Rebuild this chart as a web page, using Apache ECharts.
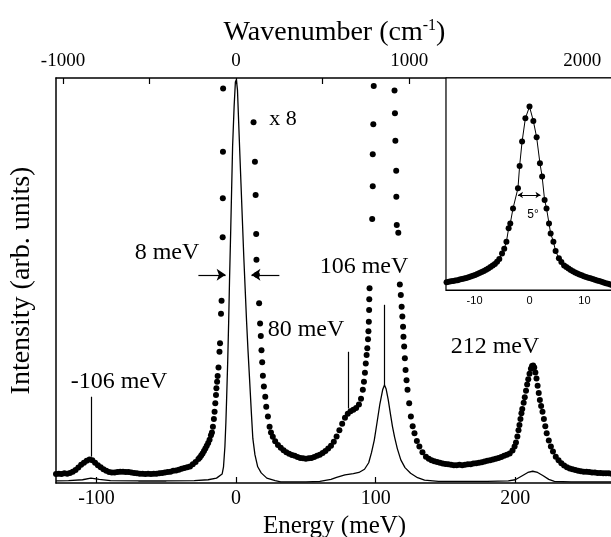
<!DOCTYPE html>
<html lang="en">
<head>
    <meta charset="UTF-8">
    <title>Energy spectrum</title>
    <style>
        html, body { margin: 0; padding: 0; background: #fff; }
        #main { width: 611px; height: 537px; }
    </style>
</head>
<body>
    <div id="main"></div>
    <script src="https://cdn.jsdelivr.net/npm/echarts@6/dist/echarts.min.js"></script>
    <script>
        // axis ranges (meV) and the cm-1 conversion for the top axis
        var xMin = -129, xMax = 270;
        var cmPerMeV = 8.0655;
        var energyTicks = [-100, 0, 100, 200];
        var waveLabels = [-1000, 0, 1000, 2000];
        var waveTicks = [-1000, -500, 0, 500, 1000, 1500, 2000];
        var insetTicks = [-10, 0, 10];

        // x1 spectrum (solid line): [energy, intensity]
        var solidLine = [
            [-129, 0.5], [-120, 0.6], [-110, 0.8], [-104, 1.2], [-98, 0.9], [-90, 0.6], [-70, 0.5],
            [-50, 0.5], [-30, 0.6], [-20, 0.8], [-14, 1.2], [-10, 2.2], [-9, 4], [-8, 9], [-7.3, 15],
            [-6.8, 20.5], [-6, 30], [-5.3, 40], [-4.7, 50], [-3.8, 63], [-2.5, 83], [-1.4, 93],
            [-0.5, 99], [0.2, 99.6], [1, 97], [2.5, 83], [3.5, 74], [4.5, 65], [5.5, 56], [6.5, 48],
            [7.5, 40], [8.5, 33], [9.7, 25.4], [11, 17], [12, 11], [13.5, 7], [15.5, 4], [18, 2.5],
            [22, 1.2], [28, 0.6], [32, 0.3], [40, 0.3], [50, 0.3], [60, 0.4], [68, 0.9], [72, 1.4],
            [78, 2.0], [84, 2.3], [88, 2.6], [92, 3.4], [95, 5], [97, 7.5], [99, 10.6], [101, 15],
            [103, 19.5], [105, 23], [106.3, 24.2], [107.5, 23.2], [109, 20.5], [110.5, 17.2],
            [112, 14], [113.5, 11.4], [115.5, 8.5], [118, 5.7], [121, 3.8], [125, 2.4], [130, 1.3],
            [135, 0.7], [145, 0.4], [160, 0.4], [180, 0.4], [195, 0.5], [200, 0.8], [205, 1.8],
            [209, 2.6], [212.5, 2.9], [216, 2.6], [220, 1.8], [224, 0.9], [228, 0.4], [240, 0.3],
            [270, 0.3]
        ];

        // x8 spectrum (dots), energy loss side and elastic peak
        var dotsLeft = [
            [-129, 2.2], [-127, 2.3], [-125, 2.2], [-123, 2.4], [-121, 2.3], [-119, 2.5], [-117, 2.8],
            [-115, 3.2], [-113, 3.8], [-111, 4.5], [-109, 5.0], [-107, 5.5], [-105, 5.8], [-103, 5.6],
            [-101, 5.0], [-99, 4.4], [-97, 3.9], [-95, 3.4], [-93, 3.0], [-91, 2.7], [-89, 2.6],
            [-87, 2.6], [-85, 2.7], [-83, 2.8], [-81, 2.8], [-79, 2.7], [-77, 2.7], [-75, 2.6],
            [-73, 2.5], [-71, 2.4], [-69, 2.3], [-67, 2.3], [-65, 2.2], [-63, 2.3], [-61, 2.2],
            [-59, 2.3], [-57, 2.3], [-55, 2.4], [-53, 2.5], [-51, 2.6], [-49, 2.7], [-47, 2.8],
            [-45, 3.0], [-43, 3.1], [-41, 3.3], [-39, 3.5], [-37, 3.7], [-35, 3.9], [-33, 4.1],
            [-31, 4.6], [-29, 5.2], [-27, 5.9], [-26, 6.3], [-25, 6.8], [-24, 7.3], [-23, 7.9],
            [-22, 8.5], [-21, 9.2], [-20, 9.9], [-19, 10.7], [-18, 11.8], [-17.3, 12.5], [-16.6, 13.9],
            [-15.9, 15.8], [-15.4, 17.6], [-14.9, 19.7], [-14.4, 21.7], [-14.1, 23.4], [-13.6, 25.0],
            [-13.2, 26.4], [-12.6, 28.5], [-11.9, 32.4], [-11.5, 34.5], [-10.8, 41.8], [-10.4, 45.0],
            [-9.6, 60.7], [-9.5, 70.3], [-9.4, 81.8], [-9.3, 97.4]
        ];

        // x8 spectrum between the elastic peak and the 106 meV peak
        var dotsMid = [
            [12.5, 89.1], [13.5, 79.3], [14.0, 71.1], [14.4, 61.5], [14.6, 55.1], [14.9, 51.4],
            [16.5, 44.4], [17.2, 39.4], [17.7, 36.3], [18.2, 32.8], [18.7, 29.8], [19.2, 26.5],
            [19.9, 23.8], [20.9, 21.3], [21.6, 18.8], [22.8, 16.4], [24, 13.9], [25, 12.5], [26.3, 11.4],
            [28, 10.3], [30, 9.4], [32, 8.7], [34, 8.1], [36, 7.6], [38, 7.2], [40, 6.9], [42, 6.7],
            [44, 6.4], [46, 6.2], [48, 6.1], [50, 6.0], [52, 6.1], [54, 6.2], [56, 6.4], [58, 6.7],
            [60, 7.0], [62, 7.4], [64, 7.9], [66, 8.5], [68, 9.2], [70, 10.2], [72, 11.5], [74, 13.0],
            [76, 14.6], [78, 16.1], [80, 17.1], [82, 17.7], [84, 18.1], [86, 18.5], [88, 19.4],
            [89.5, 20.8], [90.8, 23.0], [91.6, 25.0], [92.3, 27.2], [92.9, 29.5], [93.5, 31.6],
            [94.0, 33.3], [94.5, 35.5], [94.8, 37.5], [95.1, 39.8], [95.3, 42.7], [95.4, 45.4],
            [95.6, 48.1], [97.5, 65.2], [97.9, 73.3], [97.9, 81.2], [98.3, 88.6], [98.6, 98]
        ];

        // x8 spectrum above the 106 meV peak
        var dotsRight = [
            [113.5, 96.9], [113.8, 91.3], [114.1, 84.5], [114.7, 77.1], [114.8, 70.7], [115.1, 63.7],
            [116.2, 61.8], [117.3, 49.0], [118.0, 46.4], [118.6, 43.5], [119.1, 41.1], [119.6, 38.6],
            [119.9, 36.1], [120.4, 33.7], [120.9, 30.8], [121.4, 27.9], [122.1, 25.4], [122.8, 23.0],
            [124.0, 19.7], [125.2, 16.4], [126.5, 14.0], [127.8, 12.3], [129.5, 10.4], [131.3, 9.0],
            [133.5, 7.6], [136, 6.5], [138, 6.0], [140, 5.6], [142, 5.4], [144, 5.2], [146, 5.0],
            [148, 4.8], [150, 4.7], [152, 4.6], [154, 4.5], [156, 4.4], [158, 4.4], [160, 4.5],
            [162, 4.4], [164, 4.5], [166, 4.6], [168, 4.6], [170, 4.8], [172, 4.9], [174, 5.0],
            [176, 5.1], [178, 5.3], [180, 5.5], [182, 5.6], [184, 5.8], [186, 6.0], [188, 6.2],
            [190, 6.4], [192, 6.7], [194, 7.0], [196, 7.3], [198, 8.0], [199.5, 9.0], [200.5, 10.0],
            [201.5, 11.5], [202.3, 13.0], [203, 14.3], [203.7, 15.8], [204.4, 17.2], [205, 18.3],
            [206, 19.8], [206.8, 21.2], [207.7, 22.8], [208.5, 24.3], [209.3, 25.6], [210.2, 27.0],
            [211.2, 28.2], [212, 28.9], [212.8, 29.0], [213.6, 28.5], [214.4, 27.3], [215.2, 25.8],
            [216, 24.0], [216.8, 22.2], [217.6, 20.5], [218.5, 19.0], [219.5, 17.6], [220.5, 15.8],
            [221.5, 14.0], [222.5, 12.3], [224, 10.5], [225.5, 9.0], [227, 7.8], [229, 6.5], [231, 5.6],
            [233, 4.9], [235, 4.3], [237, 3.9], [239, 3.6], [241, 3.4], [243, 3.2], [245, 3.0],
            [247, 2.9], [249, 2.8], [251, 2.8], [253, 2.7], [255, 2.6], [257, 2.6], [259, 2.5],
            [261, 2.5], [263, 2.4], [265, 2.4], [267, 2.4], [269, 2.3]
        ];

        // inset: angular profile [angle (deg), intensity]
        var insetDots = [
            [-15.1, 3.6], [-14.7, 3.9], [-14.3, 4.1], [-13.9, 4.2], [-13.5, 4.5], [-13.1, 4.6],
            [-12.7, 4.9], [-12.3, 5.2], [-11.9, 5.4], [-11.5, 5.7], [-11.1, 6.0], [-10.7, 6.4],
            [-10.3, 6.7], [-9.9, 7.1], [-9.5, 7.5], [-9.1, 8.0], [-8.7, 8.5], [-8.3, 9.0], [-7.9, 9.5],
            [-7.5, 10.1], [-7.1, 10.8], [-6.7, 11.5], [-6.3, 12.3], [-5.9, 13.3], [-5.5, 14.6],
            [-5.0, 17.2], [-4.6, 19.5], [-4.2, 22.8], [-3.8, 29.1], [-3.5, 31.4], [-3.0, 38.5],
            [-2.1, 48], [-1.8, 58.5], [-1.35, 70], [-0.75, 81], [0, 86.5], [0.7, 79.7], [1.3, 72],
            [1.9, 59.8], [2.3, 53.5], [2.75, 42.5], [3.1, 38.5], [3.55, 31.4], [3.85, 26.7],
            [4.35, 22.8], [4.75, 18.4], [5.35, 15], [5.8, 13.2], [6.3, 11.6], [6.7, 10.9], [7.1, 10.1],
            [7.5, 9.4], [7.9, 8.8], [8.3, 8.3], [8.7, 7.8], [9.1, 7.3], [9.5, 6.9], [9.9, 6.5],
            [10.3, 6.1], [10.7, 5.8], [11.1, 5.5], [11.5, 5.2], [11.9, 4.8], [12.3, 4.5], [12.7, 4.2],
            [13.1, 3.9], [13.5, 3.5], [13.9, 3.2], [14.3, 2.9], [14.7, 2.6], [15.1, 2.3]
        ];

        // peak marker lines: energy, lower and upper intensity
        var markers = [[-104, 6.5, 21.3], [80, 18.4, 32.4], [106.3, 24.2, 44]];

        var serif = 'Liberation Serif';
        var black = '#000';

        var markLines = markers.map(function (m) {
            return [{ coord: [m[0], m[1]], symbol: 'none' }, { coord: [m[0], m[2]], symbol: 'none' }];
        });
        // 8 meV width arrows
        markLines.push([{ coord: [-27, 51.4], symbol: 'none' }, { coord: [-7.5, 51.4], symbol: 'arrow' }]);
        markLines.push([{ coord: [31, 51.4], symbol: 'none' }, { coord: [11, 51.4], symbol: 'arrow' }]);

        // dots: full black, no transparency
        var dotStyle = { color: black, opacity: 1 };
        var dotSize = 6;
        var plain = function (v) { return String(v); };

        var myChart = echarts.init(document.getElementById('main'), null, { renderer: 'canvas' });
        var option = {
            backgroundColor: '#fff',
            animation: false,
            grid: [
                // keep the plot box fixed, labels may sit outside it
                { left: 56, top: 78, right: -2, bottom: 54, outerBoundsMode: 'none', containLabel: false },
                { left: 446, top: 78, width: 167, height: 212, show: true, backgroundColor: '#fff',
                  borderColor: black, borderWidth: 1.2, z: 5, outerBoundsMode: 'none', containLabel: false }
            ],
            xAxis: [
                {
                    gridIndex: 0, type: 'value', position: 'bottom', min: xMin, max: xMax,
                    axisLine: { onZero: false, lineStyle: { color: black, width: 1.5 } },
                    axisTick: { inside: true, length: 6, customValues: energyTicks, lineStyle: { color: black, width: 1.2 } },
                    axisLabel: { customValues: energyTicks, formatter: plain, color: black, fontFamily: serif, fontSize: 20, margin: 6 },
                    splitLine: { show: false },
                    name: 'Energy (meV)', nameLocation: 'middle', nameGap: 21,
                    nameTextStyle: { color: black, fontFamily: serif, fontSize: 25 }
                },
                {
                    gridIndex: 0, type: 'value', position: 'top', min: xMin * cmPerMeV, max: xMax * cmPerMeV,
                    axisLine: { onZero: false, lineStyle: { color: black, width: 1.5 } },
                    axisTick: { inside: true, length: 6, customValues: waveTicks, lineStyle: { color: black, width: 1.2 } },
                    axisLabel: { customValues: waveLabels, formatter: plain, color: black, fontFamily: serif, fontSize: 19, margin: 7 },
                    splitLine: { show: false },
                    name: '{a|Wavenumber (cm}{s|-1}{a|)}', nameLocation: 'middle', nameGap: 30,
                    nameTextStyle: {
                        rich: {
                            a: { color: black, fontFamily: serif, fontSize: 28 },
                            s: { color: black, fontFamily: serif, fontSize: 16, verticalAlign: 'top', padding: [0, 0, 14, 0] }
                        }
                    }
                },
                {
                    gridIndex: 1, type: 'value', min: -15.2, max: 15.2,
                    axisLine: { onZero: false, lineStyle: { color: black, width: 1.2 } },
                    axisTick: { inside: true, length: 4, customValues: insetTicks, lineStyle: { color: black } },
                    axisLabel: { customValues: insetTicks, formatter: plain, color: black, fontFamily: 'Liberation Sans', fontSize: 11, margin: 5 },
                    splitLine: { show: false }
                }
            ],
            yAxis: [
                {
                    gridIndex: 0, type: 'value', min: 0, max: 100,
                    axisLine: { show: true, onZero: false, lineStyle: { color: black, width: 1.5 } },
                    axisTick: { show: false }, axisLabel: { show: false }, splitLine: { show: false },
                    name: 'Intensity (arb. units)', nameLocation: 'middle', nameGap: 20,
                    nameTextStyle: { color: black, fontFamily: serif, fontSize: 28 }
                },
                {
                    gridIndex: 1, type: 'value', min: 0, max: 100,
                    axisLine: { show: true, onZero: false, lineStyle: { color: black, width: 1.2 } },
                    axisTick: { show: false }, axisLabel: { show: false }, splitLine: { show: false }
                }
            ],
            series: [
                {
                    type: 'line', xAxisIndex: 0, yAxisIndex: 0, data: solidLine,
                    showSymbol: false, lineStyle: { color: black, width: 1.3 }, z: 3,
                    markLine: {
                        silent: true, symbolSize: 9, animation: false,
                        lineStyle: { color: black, width: 1.2, type: 'solid' },
                        label: { show: false },
                        data: markLines
                    }
                },
                { type: 'scatter', xAxisIndex: 0, yAxisIndex: 0, data: dotsLeft, symbolSize: dotSize, itemStyle: dotStyle },
                { type: 'scatter', xAxisIndex: 0, yAxisIndex: 0, data: dotsMid, symbolSize: dotSize, itemStyle: dotStyle },
                { type: 'scatter', xAxisIndex: 0, yAxisIndex: 0, data: dotsRight, symbolSize: dotSize, itemStyle: dotStyle },
                {
                    type: 'line', xAxisIndex: 2, yAxisIndex: 1, data: insetDots, z: 6,
                    symbol: 'circle', symbolSize: 6, showAllSymbol: true,
                    itemStyle: { color: black, opacity: 1 }, lineStyle: { color: black, width: 1 },
                    markLine: {
                        silent: true, symbol: ['arrow', 'arrow'], symbolSize: 5, animation: false,
                        lineStyle: { color: black, width: 1, type: 'solid' },
                        label: { show: false },
                        data: [[{ coord: [-2.1, 44.8] }, { coord: [2.0, 44.8] }]]
                    }
                }
            ],
            graphic: [
                { type: 'text', z: 10, style: { text: '-106 meV', x: 119, y: 382, align: 'center', verticalAlign: 'middle', font: '24px "Liberation Serif"', fill: black } },
                { type: 'text', z: 10, style: { text: '8 meV', x: 167, y: 253, align: 'center', verticalAlign: 'middle', font: '24px "Liberation Serif"', fill: black } },
                { type: 'text', z: 10, style: { text: '80 meV', x: 306, y: 330, align: 'center', verticalAlign: 'middle', font: '24px "Liberation Serif"', fill: black } },
                { type: 'text', z: 10, style: { text: '106 meV', x: 364, y: 267, align: 'center', verticalAlign: 'middle', font: '24px "Liberation Serif"', fill: black } },
                { type: 'text', z: 10, style: { text: '212 meV', x: 495, y: 347, align: 'center', verticalAlign: 'middle', font: '24px "Liberation Serif"', fill: black } },
                { type: 'text', z: 10, style: { text: 'x 8', x: 283, y: 119, align: 'center', verticalAlign: 'middle', font: '22px "Liberation Serif"', fill: black } },
                { type: 'text', z: 10, style: { text: '5°', x: 533, y: 215, align: 'center', verticalAlign: 'middle', font: '12px "Liberation Sans"', fill: black } }
            ]
        };
        myChart.setOption(option);
    </script>
</body>
</html>
